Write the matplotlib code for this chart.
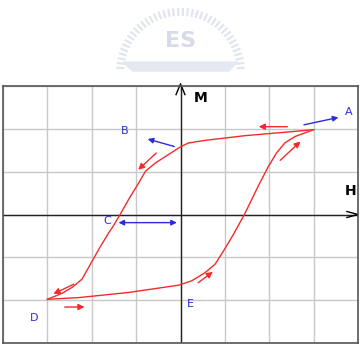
import numpy as np
import matplotlib.pyplot as plt

# hysteresis loop (H, M in grid units)
upper_h = [3.0, 2.35, 1.45, 0.55, 0.18, 0.0, -0.27, -0.57, -0.79, -0.94, -1.17,
           -1.36, -1.54, -1.62, -1.84, -2.03, -2.22, -2.44, -2.67, -3.0]
upper_m = [1.98, 1.92, 1.84, 1.73, 1.67, 1.58, 1.4, 1.2, 1.01, 0.74, 0.35,
           0.0, -0.31, -0.43, -0.81, -1.16, -1.51, -1.7, -1.84, -1.98]
lower_h = [-3.0, -2.29, -1.17, -0.04, 0.25, 0.55, 0.78, 0.97, 1.19, 1.45,
           1.75, 1.98, 2.16, 2.35, 2.58, 3.0]
lower_m = [-1.98, -1.94, -1.82, -1.65, -1.55, -1.36, -1.16, -0.85, -0.47, 0.02,
           0.66, 1.12, 1.43, 1.67, 1.82, 1.98]

labels = ["A", "B", "C", "D", "E"]
label_h = [3.78, -1.25, -1.65, -3.3, 0.22]
label_m = [2.4, 1.95, -0.15, -2.42, -2.1]

RED = "#f52a2a"
BLUE = "#2b2bd8"

fig = plt.figure(figsize=(3.61, 3.45), dpi=100)

# faint watermark at the top
wm = fig.add_axes([0.3, 0.76, 0.4, 0.24])
wm.set_xlim(-1.2, 1.2)
wm.set_ylim(-0.2, 1.2)
wm.axis("off")
for t in np.linspace(0.05, np.pi - 0.05, 40):
    wm.plot([0.95 * np.cos(t), 1.05 * np.cos(t)], [0.95 * np.sin(t), 1.05 * np.sin(t)],
            color="#dfe4ee", lw=1.5)
wm.fill([-0.95, 0.95, 0.8, -0.8], [0.15, 0.15, 0.0, 0.0], color="#e4e8f0")
wm.text(0.0, 0.5, "ES", color="#d5dbe8", fontsize=16, ha="center", va="center",
        fontweight="bold")

ax = fig.add_axes([3 / 361, 2 / 345, 355 / 361, 257 / 345])
ax.set_xlim(-4, 4)
ax.set_ylim(-3, 3)
ax.set_xticks(np.arange(-4, 5, 1))
ax.set_yticks(np.arange(-3, 4, 1))
ax.tick_params(length=0, labelbottom=False, labelleft=False)
ax.grid(True, color="#c8c8c8", lw=1)
for s in ax.spines.values():
    s.set_color("#555555")
    s.set_linewidth(1.2)

# axes through the origin
ax.plot([-4, 4], [0, 0], color="#222222", lw=1)
ax.plot([0, 0], [-3, 3], color="#222222", lw=1)
ax.plot([-0.1, 0, 0.1], [2.8, 3.05, 2.8], color="black", lw=1, clip_on=False)
ax.plot([3.75, 4.0, 3.75], [0.07, 0.0, -0.07], color="black", lw=1, clip_on=False)
ax.text(0.3, 2.72, "M", fontsize=10, fontweight="bold", va="center")
ax.text(3.7, 0.55, "H", fontsize=10, fontweight="bold", va="center")

ax.plot(upper_h, upper_m, color=RED, lw=1)
ax.plot(lower_h, lower_m, color=RED, lw=1)

red_arrows = [
    ((2.47, 2.05), (1.7, 2.05)),
    ((-0.5, 1.48), (-1.0, 1.0)),
    ((-2.35, -1.6), (-2.92, -1.88)),
    ((-2.67, -2.16), (-2.1, -2.16)),
    ((0.35, -1.63), (0.78, -1.3)),
    ((2.2, 1.22), (2.75, 1.75)),
]
for start, end in red_arrows:
    ax.annotate("", xy=end, xytext=start,
                arrowprops=dict(arrowstyle="-|>", color=RED, lw=1, mutation_scale=9))

blue_arrows = [
    ((2.72, 2.08), (3.62, 2.28), "-|>"),
    ((-0.08, 1.57), (-0.8, 1.78), "-|>"),
    ((-1.46, -0.19), (-0.02, -0.19), "<|-|>"),
]
for start, end, style in blue_arrows:
    ax.annotate("", xy=end, xytext=start,
                arrowprops=dict(arrowstyle=style, color=BLUE, lw=1, mutation_scale=8))

for name, h, m in zip(labels, label_h, label_m):
    ax.text(h, m, name, color=BLUE, fontsize=8, ha="center", va="center")

fig.savefig("out.png", dpi=100)
